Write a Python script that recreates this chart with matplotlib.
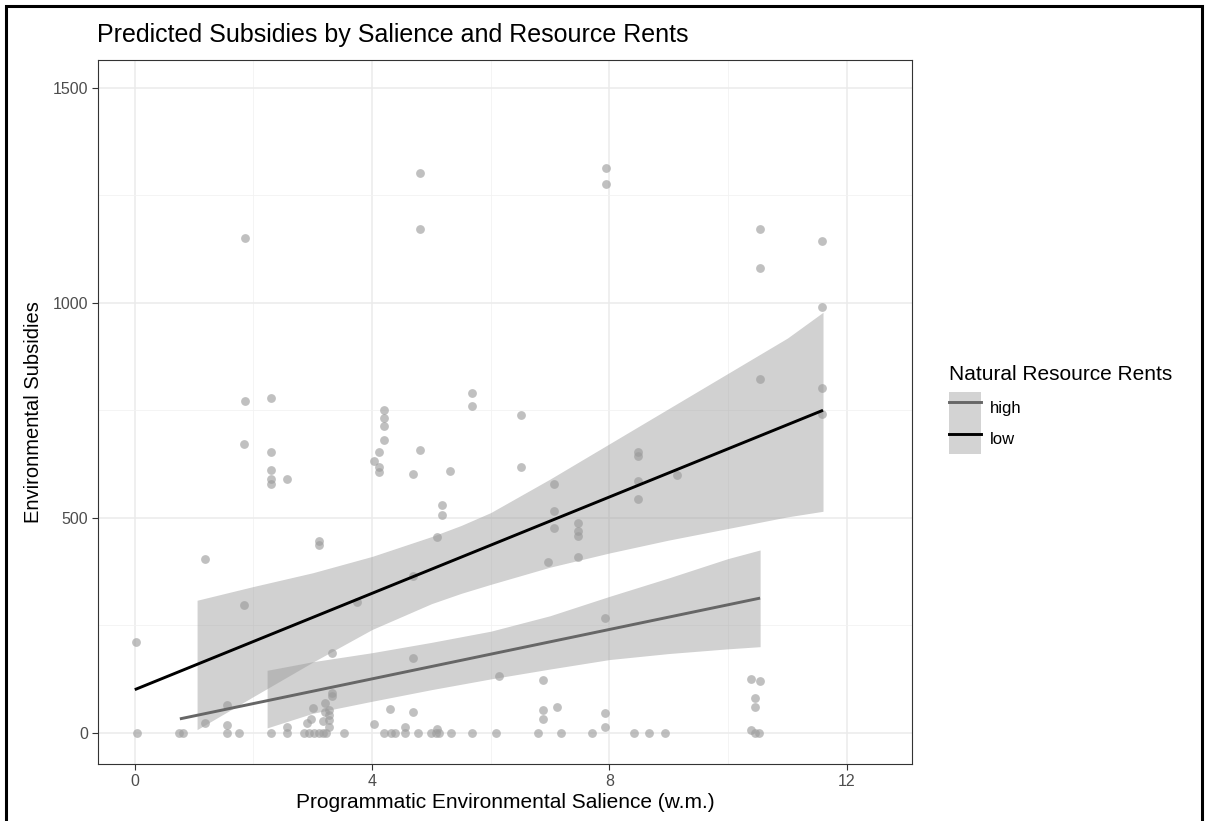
import matplotlib.pyplot as plt
from matplotlib.patches import Patch, Rectangle
from matplotlib.lines import Line2D
from matplotlib.legend_handler import HandlerTuple

plt.rcParams['font.family'] = ['Liberation Sans', 'DejaVu Sans']

# scatter: observed salience / subsidies
pts_x = [1.85, 1.85, 2.3, 4.8, 4.8, 7.94, 7.94, 10.54, 10.54, 11.59, 11.59,
         10.54, 11.59, 11.59, 5.69, 5.69, 4.2, 4.2, 4.2, 4.2, 4.11, 4.03,
         4.11, 4.11, 4.8, 4.69, 5.31, 5.18, 5.18, 5.1, 1.84, 2.3, 2.3, 2.3,
         2.3, 2.56, 1.18, 1.84, 0.02, 3.11, 3.11, 4.69, 3.75, 6.51, 6.51,
         7.07, 7.07, 7.07, 6.96, 7.47, 7.47, 7.47, 7.47, 8.49, 8.49, 8.49,
         8.49, 9.14, 7.92, 3.32, 4.69, 6.14, 6.88, 3.32, 3.32, 4.31, 4.69,
         1.55, 1.18, 1.55, 4.03, 4.55, 5.1, 6.88, 6.88, 7.11, 7.92, 7.92,
         10.39, 10.54, 10.46, 10.46, 10.39, 3.0, 3.2, 3.28, 3.28, 3.2, 3.28,
         2.97, 2.91, 3.17, 3.28, 2.57]
pts_y = [1151, 772, 779, 1302, 1172, 1314, 1277, 1172, 1082, 1144, 991,
         823, 801, 741, 791, 759, 750, 732, 714, 681, 653, 631,
         618, 607, 657, 602, 609, 530, 507, 455, 671, 653, 612, 590,
         579, 591, 405, 298, 211, 445, 436, 364, 303, 738, 617,
         579, 515, 477, 397, 488, 468, 458, 409, 653, 643, 586,
         544, 600, 267, 185, 174, 131, 123, 92, 86, 56, 47,
         65, 22, 18, 20, 12, 8, 53, 32, 60, 45, 12,
         124, 121, 81, 60, 5, 57, 69, 53, 42, 47, 30,
         32, 22, 28, 13, 13]
zero_x = [0.04, 0.74, 0.81, 1.55, 1.75, 2.3, 2.56, 2.86, 2.94, 3.02, 3.1,
          3.17, 3.22, 3.53, 4.2, 4.32, 4.38, 4.55, 4.77, 5.0, 5.08, 5.12,
          5.33, 5.69, 6.09, 6.79, 7.19, 7.7, 8.42, 8.67, 8.94, 10.46, 10.52]

# fitted lines
low_x = [0.0, 11.6]
low_y = [100, 750]
high_x = [0.76, 10.54]
high_y = [32, 313]

# confidence bands
low_band_x = [1.05, 2, 3, 4, 5, 5.5, 6, 7, 8, 9, 10, 11, 11.6]
low_band_hi = [308, 340, 372, 410, 456, 482, 512, 590, 672, 754, 836, 918, 978]
low_band_lo = [7, 84, 164, 240, 300, 324, 345, 385, 418, 448, 475, 502, 515]
high_band_x = [2.23, 3, 4, 5, 6, 7, 8, 9, 10, 10.54]
high_band_hi = [145, 165, 186, 210, 236, 272, 317, 360, 405, 425]
high_band_lo = [11, 45, 73, 100, 125, 148, 170, 184, 195, 200]

x_ticks = [0, 4, 8, 12]
y_ticks = [0, 500, 1000, 1500]

fig = plt.figure(figsize=(12.05, 8.21), dpi=100)
ax = fig.add_axes([98 / 1205, 1 - 764 / 821, 814 / 1205, 704 / 821])

pt_col = '#9e9e9e'
ax.scatter(pts_x, pts_y, s=40, color=pt_col, alpha=0.65, lw=0, zorder=3)
ax.scatter(zero_x, [0] * len(zero_x), s=40, color=pt_col, alpha=0.65,
           lw=0, zorder=3)

band_col = '#999999'
ax.fill_between(high_band_x, high_band_lo, high_band_hi, color=band_col,
                alpha=0.45, lw=0, zorder=4)
ax.fill_between(low_band_x, low_band_lo, low_band_hi, color=band_col,
                alpha=0.45, lw=0, zorder=4)
ax.plot(high_x, high_y, color='#666666', lw=2.1, zorder=5,
        solid_capstyle='butt')
ax.plot(low_x, low_y, color='black', lw=2.1, zorder=5,
        solid_capstyle='butt')

ax.set_xlim(-0.62, 13.1)
ax.set_ylim(-73, 1565)
ax.set_xticks(x_ticks)
ax.set_yticks(y_ticks)
ax.set_xticks([2, 6, 10], minor=True)
ax.set_yticks([250, 750, 1250], minor=True)
ax.grid(True, which='major', color='#ebebeb', lw=1.1)
ax.grid(True, which='minor', color='#f2f2f2', lw=0.6)
ax.set_axisbelow(True)
ax.tick_params(which='major', length=4, width=0.8, color='#333333',
               labelsize=11.5, labelcolor='#4d4d4d', pad=3)
ax.tick_params(which='minor', length=0)
for sp in ax.spines.values():
    sp.set_color('#333333')
    sp.set_linewidth(0.8)

ax.set_xlabel('Programmatic Environmental Salience (w.m.)', fontsize=15,
              labelpad=3)
ax.set_ylabel('Environmental Subsidies', fontsize=14.5, labelpad=7)
fig.text(97 / 1205, 1 - 35 / 821, 'Predicted Subsidies by Salience and '
         'Resource Rents', fontsize=18, ha='left', va='center')

key_fill = '#d3d3d3'
handles = [(Patch(color=key_fill, lw=0), Line2D([], [], color='#666666', lw=2.1)),
           (Patch(color=key_fill, lw=0), Line2D([], [], color='black', lw=2.1))]
leg = fig.legend(handles, ['high', 'low'], title='Natural Resource Rents',
                 handler_map={tuple: HandlerTuple(ndivide=1, pad=0)},
                 loc='upper left', bbox_to_anchor=(937 / 1205, 1 - 353 / 821),
                 frameon=False, fontsize=12, title_fontsize=15,
                 handlelength=1.95, handleheight=2.5, labelspacing=0.0,
                 handletextpad=0.55, alignment='left', borderpad=0.2)
leg._legend_box.sep = 6

# outer frame of the screenshot
fig.add_artist(Rectangle((6 / 1205, -0.01), 1196 / 1205, 1.01 - 6 / 821,
                         transform=fig.transFigure, fill=False,
                         lw=2.2, ec='black'))

fig.savefig('out.png', dpi=100)
